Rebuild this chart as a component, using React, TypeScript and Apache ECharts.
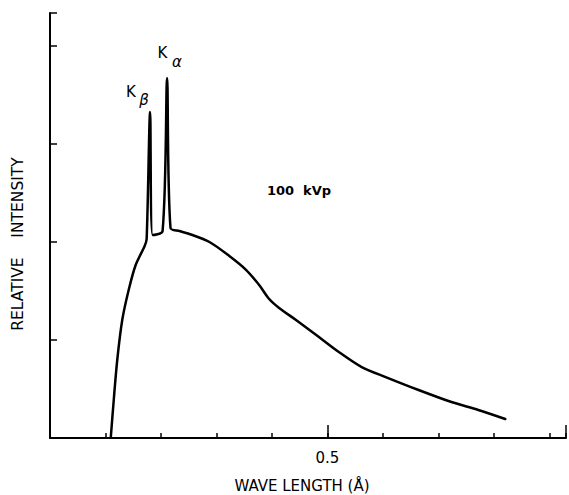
import React, { useEffect, useRef } from "react";
import * as echarts from "echarts";

// Wavelength (Å) and relative intensity
const wavelength = [
  0.1095, 0.1149, 0.1212, 0.1302, 0.1418, 0.1544, 0.1706, 0.1742,
  0.1804, 0.1849, 0.2029, 0.211, 0.2172, 0.2334, 0.2513, 0.2873, 0.3232,
  0.3537, 0.377, 0.395, 0.4129, 0.4434, 0.4847, 0.5206, 0.5619, 0.605,
  0.6643, 0.7235, 0.772, 0.8205,
];
const intensity = [
  0, 0.388, 0.796, 1.204, 1.51, 1.765, 1.959, 2.03, 3.327, 2.071,
  2.112, 3.673, 2.143, 2.112, 2.082, 2.0, 1.857, 1.714, 1.561, 1.418, 1.327,
  1.204, 1.031, 0.878, 0.724, 0.622, 0.49, 0.367, 0.286, 0.194,
];
const xLabelValues = [0.5];
const xTitle = "WAVE LENGTH (Å)";
const yTitle = "RELATIVE    INTENSITY";
const annotation = "100  kVp";

const FONT = "DejaVu Sans";
const INK = "#000";

export default function App() {
  const ref = useRef<HTMLDivElement>(null);
  useEffect(() => {
    if (!ref.current) return;
    const chart = echarts.init(ref.current, null, { renderer: "svg" });
    const data = wavelength.map((w, i) => [w, intensity[i]]);
    chart.setOption({
      animation: false,
      backgroundColor: "#fff",
      grid: { left: 50, right: 1, top: 13, bottom: 57, containLabel: false },
      xAxis: [
        {
          type: "value",
          position: "bottom",
          min: 0,
          max: 0.93,
          interval: 0.1,
          axisLine: { show: true, lineStyle: { color: INK, width: 2 } },
          axisTick: { show: true, inside: true, length: 5, lineStyle: { color: INK, width: 1.5 } },
          axisLabel: {
            show: true,
            margin: 12,
            fontFamily: FONT,
            fontSize: 15,
            color: INK,
            formatter: (v: number) =>
              xLabelValues.some((l) => Math.abs(l - v) < 1e-6) ? String(v) : "",
          },
          splitLine: { show: false },
        },
        {
          type: "value",
          position: "bottom",
          min: 0,
          max: 0.93,
          interval: 0.5,
          axisLine: { show: false },
          axisTick: { show: true, inside: true, length: 13, lineStyle: { color: INK, width: 1.5 } },
          axisLabel: { show: false },
          splitLine: { show: false },
        },
      ],
      yAxis: {
        type: "value",
        min: 0,
        max: 4.337,
        interval: 1,
        axisLine: { show: true, lineStyle: { color: INK, width: 2 } },
        axisTick: { show: true, inside: true, length: 7, lineStyle: { color: INK, width: 1.5 } },
        axisLabel: { show: false },
        splitLine: { show: false },
      },
      series: [
        {
          type: "line",
          data,
          xAxisIndex: 0,
          showSymbol: false,
          smooth: 0.3,
          lineStyle: { color: INK, width: 2.5, join: "round", cap: "round" },
        },
      ],
      graphic: [
        {
          type: "text",
          x: 18,
          y: 244,
          rotation: Math.PI / 2,
          style: { text: yTitle, fontFamily: FONT, fontSize: 15.5, fill: INK, align: "center", verticalAlign: "middle" },
        },
        {
          type: "text",
          x: 302,
          y: 486,
          style: { text: xTitle, fontFamily: FONT, fontSize: 15, fill: INK, align: "center", verticalAlign: "middle" },
        },
        {
          type: "text",
          x: 299,
          y: 190,
          style: { text: annotation, fontFamily: FONT, fontSize: 13, fontWeight: "bold", fill: INK, align: "center", verticalAlign: "middle" },
        },
        {
          type: "text",
          x: 131,
          y: 92,
          style: { text: "K", fontFamily: FONT, fontSize: 15, fill: INK, align: "center", verticalAlign: "middle" },
        },
        {
          type: "text",
          x: 144,
          y: 100,
          style: { text: "β", fontFamily: FONT, fontSize: 15, fontStyle: "italic", fill: INK, align: "center", verticalAlign: "middle" },
        },
        {
          type: "text",
          x: 162.5,
          y: 53,
          style: { text: "K", fontFamily: FONT, fontSize: 15, fill: INK, align: "center", verticalAlign: "middle" },
        },
        {
          type: "text",
          x: 177,
          y: 62,
          style: { text: "α", fontFamily: FONT, fontSize: 15, fontStyle: "italic", fill: INK, align: "center", verticalAlign: "middle" },
        },
      ],
    });
    return () => chart.dispose();
  }, []);
  return (
    <div
      ref={ref}
      style={{ position: "fixed", left: 0, top: 0, width: 569, height: 495 }}
    />
  );
}
